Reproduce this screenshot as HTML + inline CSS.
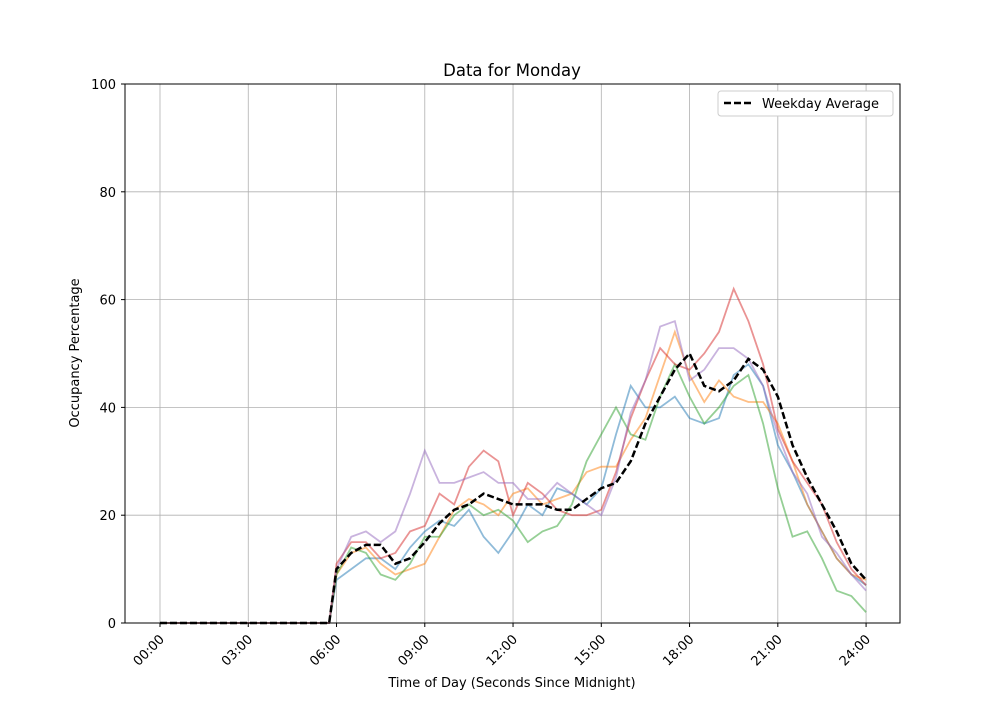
<!DOCTYPE html>
<html><head><meta charset="utf-8"><style>
html,body{margin:0;padding:0;background:#fff;}
svg text{font-family:"DejaVu Sans","Liberation Sans",sans-serif;font-size:13px;fill:#000;}
</style></head><body>
<svg id="s" width="1000" height="700" xmlns="http://www.w3.org/2000/svg">
<rect width="1000" height="700" fill="#fff"/>
<g id="grid"></g>
<g id="lines"></g>
<rect x="125" y="84" width="775" height="539" fill="none" stroke="#000" stroke-width="1"/>
<g id="ticks"></g>
<text x="512" y="76" text-anchor="middle" style="font-size:16.5px">Data for Monday</text>
<text x="512" y="687" text-anchor="middle">Time of Day (Seconds Since Midnight)</text>
<text transform="translate(79,353) rotate(-90)" text-anchor="middle">Occupancy Percentage</text>
<rect x="718" y="91" width="175" height="25" rx="3" fill="#fff" stroke="#ccc"/>
<line x1="724" y1="103" x2="752" y2="103" stroke="#000" stroke-width="2.5" stroke-dasharray="7,3"/>
<text x="762" y="108">Weekday Average</text>
</svg>
<script>
const X=h=>160+h*29.42, Y=v=>623-v*5.39;
const ns="http://www.w3.org/2000/svg";
function el(p,t,a){const e=document.createElementNS(ns,t);for(const k in a)e.setAttribute(k,a[k]);document.getElementById(p).appendChild(e);return e;}
for(let h=0;h<=24;h+=3){const x=X(h);el("grid","line",{x1:x,y1:84,x2:x,y2:623,stroke:"#b0b0b0","stroke-width":0.8});
el("ticks","line",{x1:x,y1:623,x2:x,y2:627,stroke:"#000"});
const t=el("ticks","text",{transform:`translate(${x+5},${640}) rotate(-45)`,"text-anchor":"end"});t.textContent=String(h).padStart(2,"0")+":00";}
for(let v=0;v<=100;v+=20){const y=Y(v);el("grid","line",{x1:125,y1:y,x2:900,y2:y,stroke:"#b0b0b0","stroke-width":0.8});
el("ticks","line",{x1:121,y1:y,x2:125,y2:y,stroke:"#000"});
const t=el("ticks","text",{x:116,y:y+5,"text-anchor":"end"});t.textContent=v;}
function mk(arr){const p=[[0,0],[5.75,0]];for(let i=0;i<arr.length;i++)p.push([6+i*0.5,arr[i]]);return p;}
const S={
"#1f77b4":[8,10,12,12,10,14,17,19,18,21,16,13,17,22,20,25,24,22,25,35,44,40,40,42,38,37,38,46,48,44,33,28,22,17,12,9,7],
"#ff7f0e":[9,13,14,11,9,10,11,16,21,23,22,20,24,25,22,23,24,28,29,29,34,38,46,54,46,41,45,42,41,41,37,30,22,17,12,9,8],
"#2ca02c":[9,14,13,9,8,11,16,16,20,22,20,21,19,15,17,18,22,30,35,40,35,34,42,48,42,37,40,44,46,37,25,16,17,12,6,5,2],
"#d62728":[11,15,15,12,13,17,18,24,22,29,32,30,20,26,24,21,20,20,21,28,38,45,51,48,47,50,54,62,56,48,36,30,26,22,15,10,7],
"#9467bd":[10,16,17,15,17,24,32,26,26,27,28,26,26,23,23,26,24,22,20,27,39,45,55,56,45,47,51,51,49,44,35,28,24,16,13,9,6]};
for(const c in S){el("lines","polyline",{points:mk(S[c]).map(p=>X(p[0])+","+Y(p[1])).join(" "),fill:"none",stroke:c,"stroke-opacity":0.5,"stroke-width":1.8});}
const avg=[10,13,14.5,14.5,11,12,15,18.5,21,22,24,23,22,22,22,21,21,23,25,26,30,37,42,47,50,44,43,45,49,47,42,33,27,22,17,11,8,6];
const ap=[[0,0],[5.75,0]];for(let i=0;i<37;i++)ap.push([6+i*0.5,avg[i]]);
el("lines","polyline",{points:ap.map(p=>X(p[0])+","+Y(p[1])).join(" "),fill:"none",stroke:"#000","stroke-width":2.5,"stroke-dasharray":"7,3"});
</script>
</body></html>
